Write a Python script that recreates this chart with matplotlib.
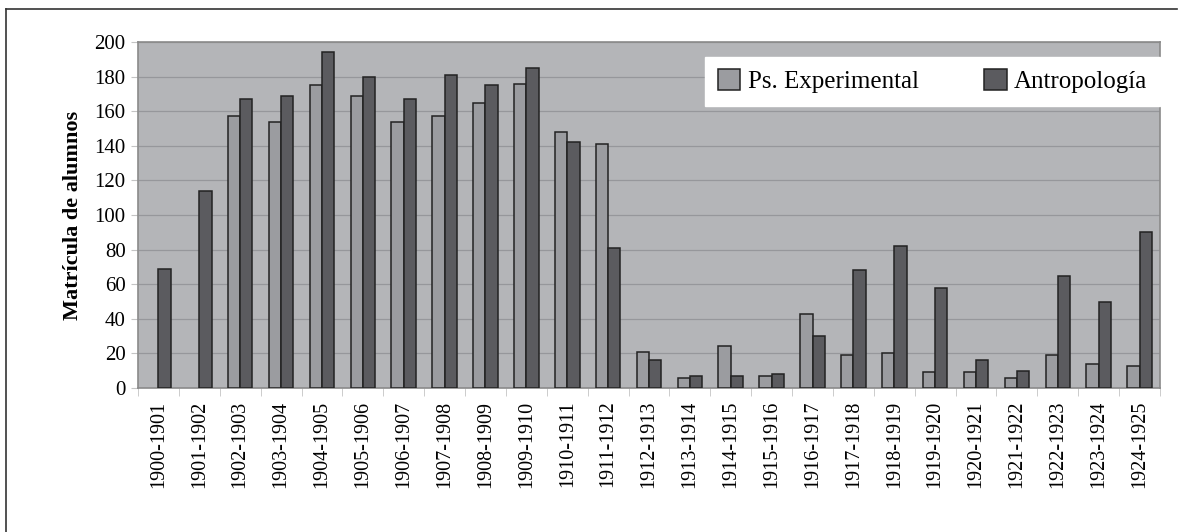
import matplotlib.pyplot as plt
import numpy as np

cursos = ["1900-1901", "1901-1902", "1902-1903", "1903-1904", "1904-1905",
          "1905-1906", "1906-1907", "1907-1908", "1908-1909", "1909-1910",
          "1910-1911", "1911-1912", "1912-1913", "1913-1914", "1914-1915",
          "1915-1916", "1916-1917", "1917-1918", "1918-1919", "1919-1920",
          "1920-1921", "1921-1922", "1922-1923", "1923-1924", "1924-1925"]

# sin datos de Ps. Experimental en los dos primeros cursos
ps_experimental = [np.nan, np.nan, 157, 154, 175, 169, 154, 157, 165, 176,
                   148, 141, 21, 6, 24, 7, 43, 19, 20, 9,
                   9, 6, 19, 14, 13]
antropologia = [69, 114, 167, 169, 194, 180, 167, 181, 175, 185,
                142, 81, 16, 7, 7, 8, 30, 68, 82, 58,
                16, 10, 65, 50, 90]

plt.rcParams["font.family"] = ["Liberation Serif", "DejaVu Serif"]

fig = plt.figure(figsize=(11.79, 5.32), dpi=100, facecolor="white")
ax = fig.add_axes([138/1179, 1-388/532, (1160-138)/1179, (388-42)/532])

x = np.arange(len(cursos))
w = 0.30
ax.bar(x - w/2, ps_experimental, w, color="#9b9ca0", edgecolor="#222222",
       linewidth=1.1, label="Ps. Experimental", zorder=3)
ax.bar(x + w/2, antropologia, w, color="#5b5b5f", edgecolor="#222222",
       linewidth=1.1, label="Antropología", zorder=3)

ax.set_facecolor("#b4b5b8")
ax.set_xlim(-0.5, len(cursos) - 0.5)
ax.set_ylim(0, 200)
ax.set_yticks(range(0, 201, 20))
ax.yaxis.grid(True, color="#96979b", linewidth=0.9, zorder=0)
ax.set_xticks(x)
ax.set_xticklabels(cursos, rotation=90, fontsize=14.5)
ax.set_xticks(np.arange(-0.5, len(cursos), 1), minor=True)
ax.tick_params(axis="x", which="major", length=0, pad=9)
ax.tick_params(axis="x", which="minor", length=6, color="#c4c4c4")
ax.tick_params(axis="y", length=5, color="#c4c4c4", labelsize=15, pad=4)
for s in ax.spines.values():
    s.set_color("#8a8a8a")
    s.set_linewidth(1.2)

ax.set_ylabel("Matrícula de alumnos", fontsize=16, fontweight="bold", labelpad=8)

leg = ax.legend(loc="upper right", bbox_to_anchor=(0.555, 0.806, 0.445, 0.151),
                mode="expand", ncol=2, fontsize=18, frameon=True, fancybox=False,
                edgecolor="white", framealpha=1, handlelength=0.9, handleheight=0.9,
                handletextpad=0.3, borderaxespad=0, columnspacing=1.5,
                borderpad=0.5)

# borde de la figura
fig.add_artist(plt.Line2D([6/1179, 6/1179], [0, 1-9/532], color="#333333", linewidth=1.2))
fig.add_artist(plt.Line2D([6/1179, 1177/1179], [1-9/532, 1-9/532], color="#333333", linewidth=1.2))

fig.savefig("out.png", dpi=100, facecolor="white")
